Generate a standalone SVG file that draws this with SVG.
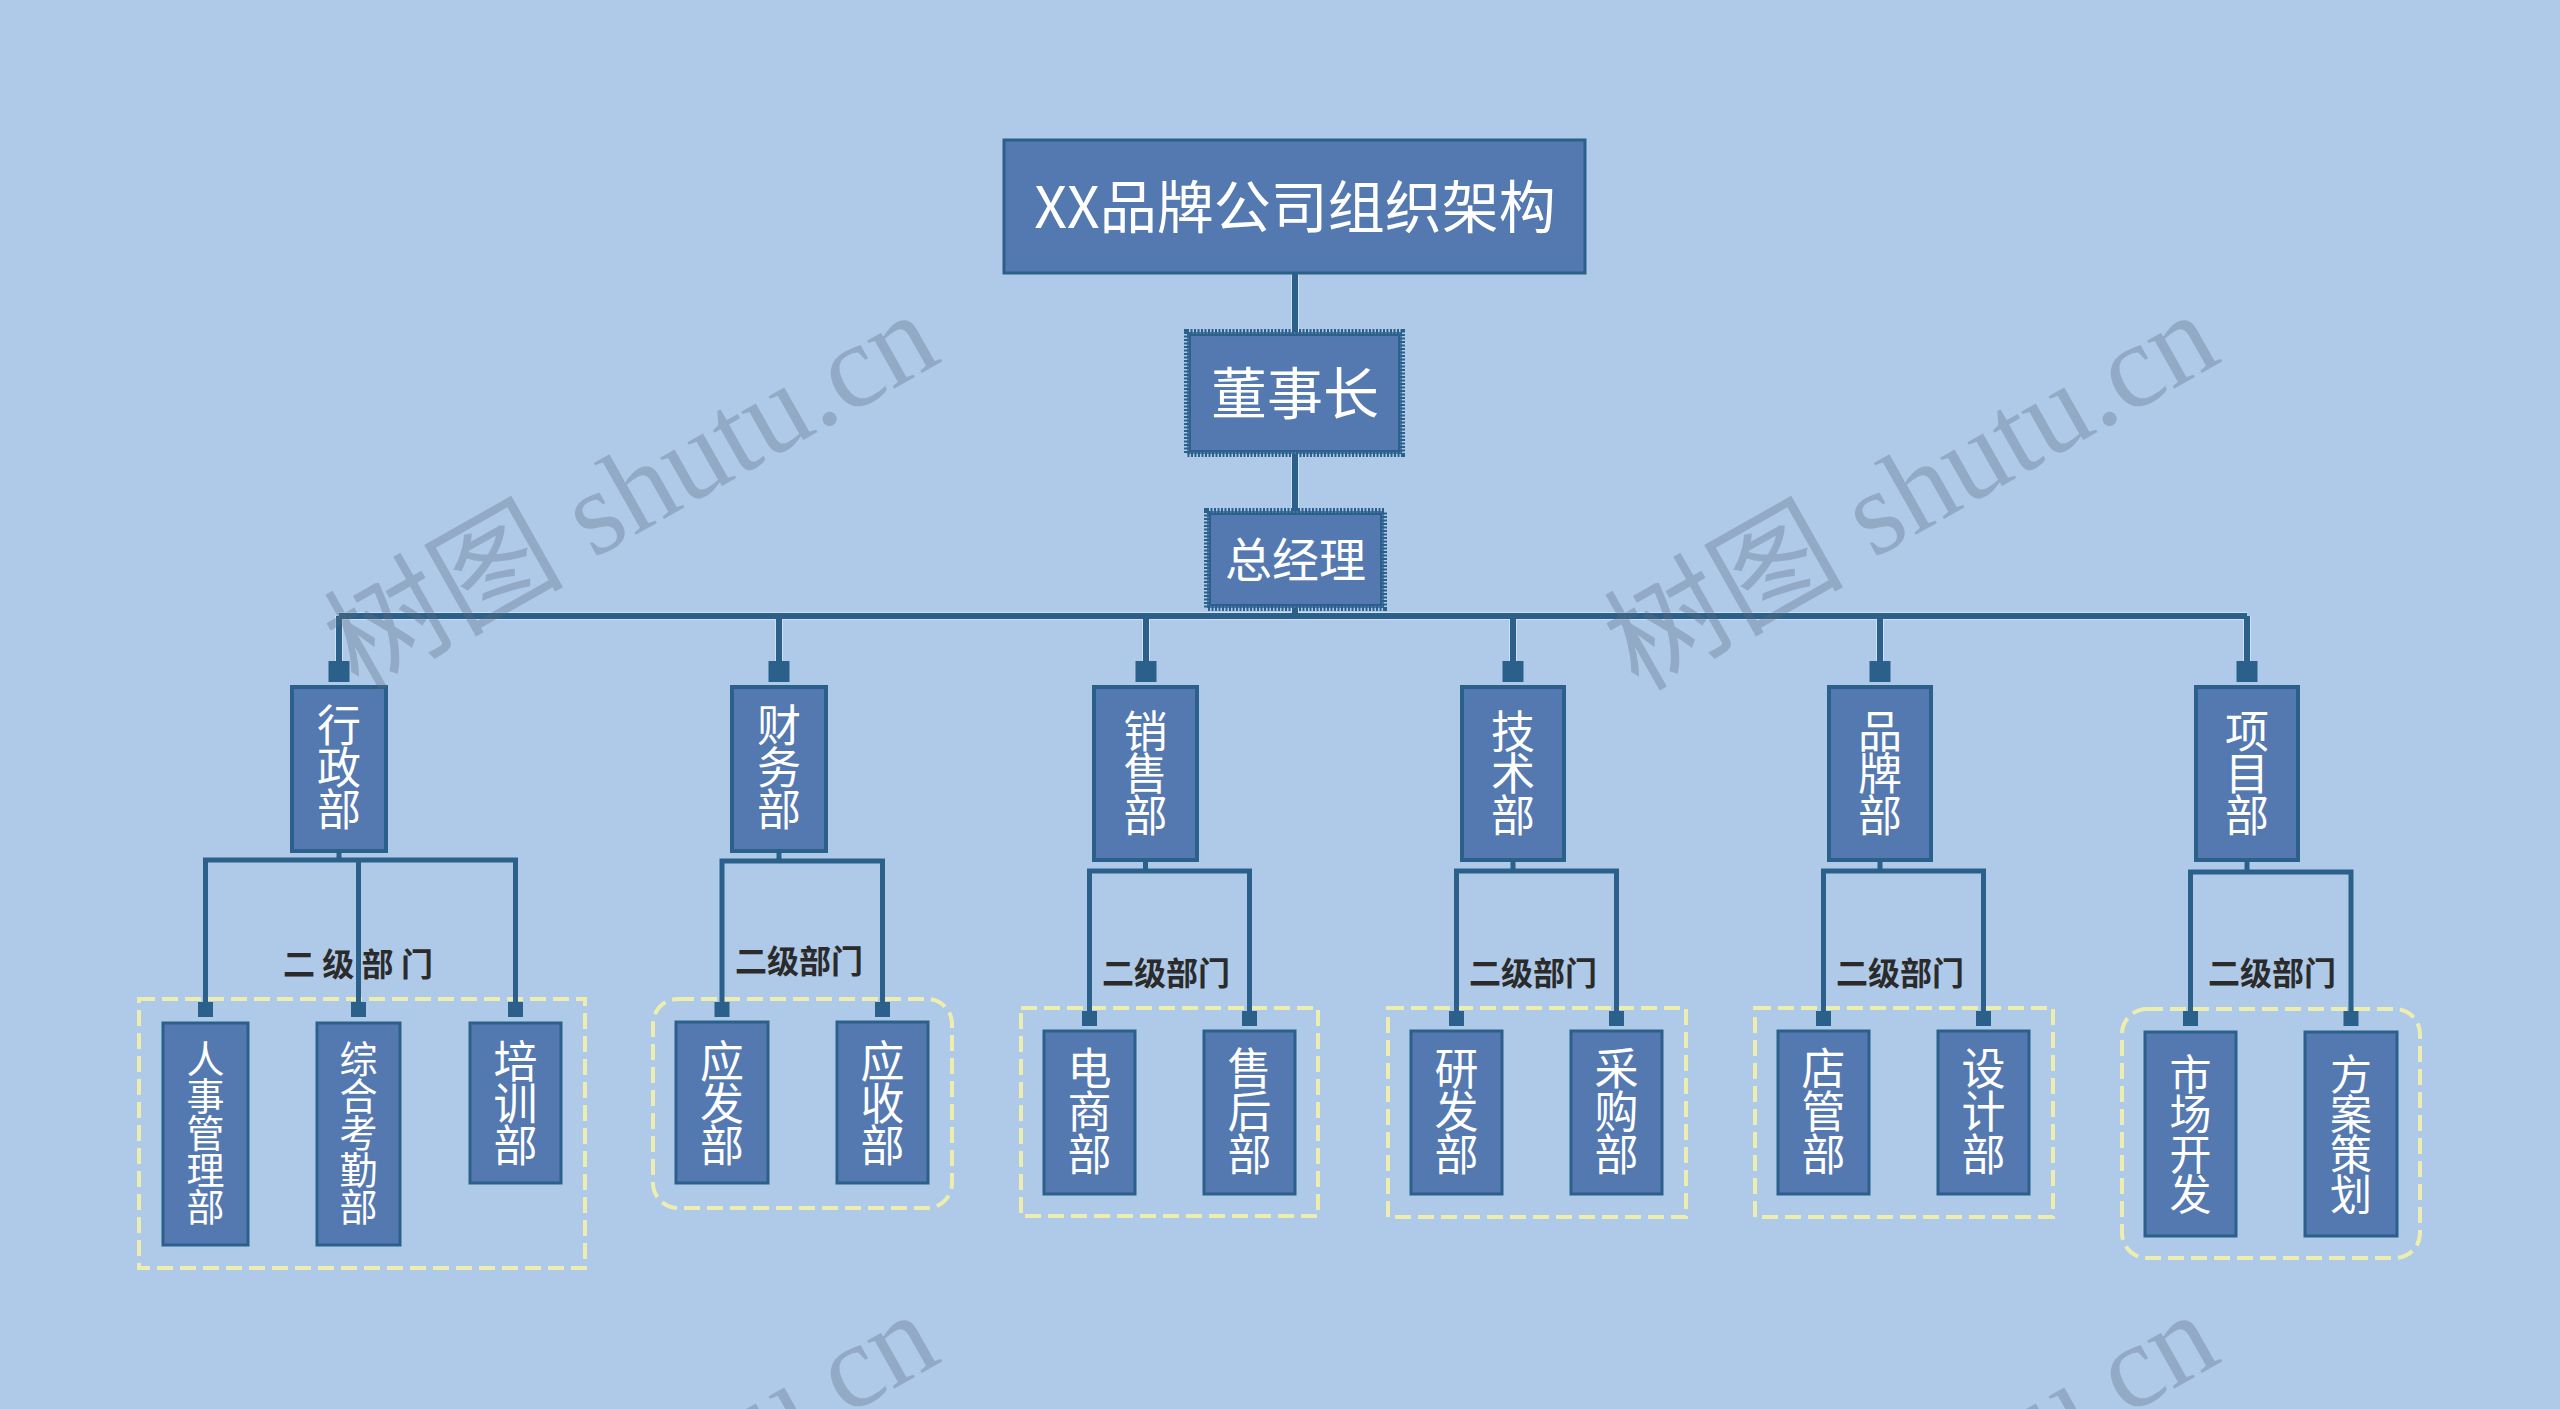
<svg xmlns="http://www.w3.org/2000/svg" width="2560" height="1409" viewBox="0 0 2560 1409">
<style>
.node rect{fill:#5479b0;stroke:#2a6089;stroke-width:4}
.sub rect{fill:#5479b0;stroke:#2a6089;stroke-width:3}
.txt{fill:#ffffff;font-family:"Noto Sans CJK SC",sans-serif;text-anchor:middle}
.v{writing-mode:vertical-rl;text-orientation:upright}
.lbl{fill:#2b2b2b;font-family:"Noto Sans CJK SC",sans-serif;font-weight:700;font-size:32px;text-anchor:middle}
.halo{fill:none;stroke:#cfe0f3;stroke-width:8}
.conn{fill:none;stroke:#2a6089;stroke-width:6}
.sq{fill:#2a6089}
.grp{fill:none;stroke:#eeedb0;stroke-width:4;stroke-dasharray:16 7}
.dot-out{fill:#5479b0;stroke:#2a6089;stroke-width:6;stroke-dasharray:2 1.5}
.dot-in{fill:none;stroke:#2a6089;stroke-width:2}
.wm{fill:#5a6b80;fill-opacity:0.33;font-family:"Liberation Serif","Noto Sans CJK SC",serif;font-size:120px}
</style>
<rect x="0" y="0" width="2560" height="1409" fill="#aecae8"/>

<g id="groups">
<rect class="grp" x="139" y="999" width="446" height="269"/>
<rect class="grp" x="653" y="999" width="299" height="209" rx="25"/>
<rect class="grp" x="1021" y="1008" width="297" height="208"/>
<rect class="grp" x="1388" y="1008" width="298" height="209"/>
<rect class="grp" x="1755" y="1008" width="298" height="209"/>
<rect class="grp" x="2122" y="1009" width="298" height="249" rx="25"/>
</g>

<g id="connectors">
<path class="halo" d="M1295 273V332M1295 454V511M1295 608V616M339 616H2247M339 616V661M779 616V661M1146 616V661M1513 616V661M1880 616V661M2247 616V661"/>
<path class="conn" d="M1295 273V332M1295 454V511M1295 608V616M339 616H2247M339 616V661M779 616V661M1146 616V661M1513 616V661M1880 616V661M2247 616V661"/>
<g class="sq">
<rect x="328.5" y="661" width="21" height="21"/>
<rect x="768.5" y="661" width="21" height="21"/>
<rect x="1135.5" y="661" width="21" height="21"/>
<rect x="1502.5" y="661" width="21" height="21"/>
<rect x="1869.5" y="661" width="21" height="21"/>
<rect x="2236.5" y="661" width="21" height="21"/>
</g>
<path class="conn" style="stroke-width:5" d="M339 851V860M205.5 1002V860H515.5V1002M358.5 860V1002M779 851V861M722 1002V861H882.5V1002M1145.5 860V871M1089.5 1011V871H1249.5V1011M1513 860V871M1456.5 1011V871H1616.5V1011M1880 860V871M1823.5 1011V871H1983.5V1011M2247 860V872M2190.5 1011V872H2351V1011"/>
<g class="sq">
<rect x="198" y="1002" width="15" height="15"/>
<rect x="351" y="1002" width="15" height="15"/>
<rect x="508" y="1002" width="15" height="15"/>
<rect x="714.5" y="1002" width="15" height="15"/>
<rect x="875" y="1002" width="15" height="15"/>
<rect x="1082" y="1011" width="15" height="15"/>
<rect x="1242" y="1011" width="15" height="15"/>
<rect x="1449" y="1011" width="15" height="15"/>
<rect x="1609" y="1011" width="15" height="15"/>
<rect x="1816" y="1011" width="15" height="15"/>
<rect x="1976" y="1011" width="15" height="15"/>
<rect x="2183" y="1011" width="15" height="15"/>
<rect x="2343.5" y="1011" width="15" height="15"/>
</g>
</g>

<g id="n-title" class="node">
<rect x="1004" y="140" width="581" height="133" style="stroke-width:3"/>
<text class="txt" x="1295" y="228" font-size="57">XX品牌公司组织架构</text>
</g>
<g id="n-chairman">
<rect class="dot-out" x="1187" y="332" width="215" height="122"/>
<rect class="dot-in" x="1190" y="335" width="209" height="116"/>
<text class="txt" x="1295" y="414" font-size="56">董事长</text>
</g>
<g id="n-gm">
<rect class="dot-out" x="1207" y="511" width="177" height="97"/>
<rect class="dot-in" x="1210" y="514" width="171" height="91"/>
<text class="txt" x="1295.5" y="577" font-size="47">总经理</text>
</g>

<g id="n-xingzheng" class="node">
<rect x="292" y="687" width="94" height="164"/>
<text class="txt v" x="339" y="766" font-size="44" letter-spacing="-2">行政部</text>
</g>
<g id="n-caiwu" class="node">
<rect x="732" y="687" width="94" height="164"/>
<text class="txt v" x="779" y="766" font-size="44" letter-spacing="-2">财务部</text>
</g>
<g id="n-xiaoshou" class="node">
<rect x="1094" y="687" width="103" height="173"/>
<text class="txt v" x="1145.5" y="772" font-size="44" letter-spacing="-2">销售部</text>
</g>
<g id="n-jishu" class="node">
<rect x="1462" y="687" width="102" height="173"/>
<text class="txt v" x="1513" y="772" font-size="44" letter-spacing="-2">技术部</text>
</g>
<g id="n-pinpai" class="node">
<rect x="1829" y="687" width="102" height="173"/>
<text class="txt v" x="1880" y="772" font-size="44" letter-spacing="-2">品牌部</text>
</g>
<g id="n-xiangmu" class="node">
<rect x="2196" y="687" width="102" height="173"/>
<text class="txt v" x="2247" y="772" font-size="44" letter-spacing="-2">项目部</text>
</g>

<g id="labels">
<text class="lbl" x="358" y="976" xml:space="preserve">二 级 部 门</text>
<text class="lbl" x="799" y="973">二级部门</text>
<text class="lbl" x="1166" y="985">二级部门</text>
<text class="lbl" x="1533" y="985">二级部门</text>
<text class="lbl" x="1900" y="985">二级部门</text>
<text class="lbl" x="2272" y="985">二级部门</text>
</g>

<g id="n-renshi" class="sub">
<rect x="163" y="1023" width="85" height="222"/>
<text class="txt v" x="205.5" y="1132" font-size="38" letter-spacing="-1">人事管理部</text>
</g>
<g id="n-zonghe" class="sub">
<rect x="317" y="1023" width="83" height="222"/>
<text class="txt v" x="358.5" y="1132" font-size="38" letter-spacing="-1">综合考勤部</text>
</g>
<g id="n-peixun" class="sub">
<rect x="470" y="1023" width="91" height="160"/>
<text class="txt v" x="515.5" y="1102" font-size="44" letter-spacing="-2">培训部</text>
</g>
<g id="n-yingfa" class="sub">
<rect x="676" y="1022" width="92" height="161"/>
<text class="txt v" x="722" y="1102" font-size="44" letter-spacing="-2">应发部</text>
</g>
<g id="n-yingshou" class="sub">
<rect x="837" y="1022" width="91" height="161"/>
<text class="txt v" x="882.5" y="1102" font-size="44" letter-spacing="-2">应收部</text>
</g>
<g id="n-dianshang" class="sub">
<rect x="1044" y="1031" width="91" height="163"/>
<text class="txt v" x="1089.5" y="1111" font-size="44" letter-spacing="-1">电商部</text>
</g>
<g id="n-shouhou" class="sub">
<rect x="1204" y="1031" width="91" height="163"/>
<text class="txt v" x="1249.5" y="1111" font-size="44" letter-spacing="-1">售后部</text>
</g>
<g id="n-yanfa" class="sub">
<rect x="1411" y="1031" width="91" height="163"/>
<text class="txt v" x="1456.5" y="1111" font-size="44" letter-spacing="-1">研发部</text>
</g>
<g id="n-caigou" class="sub">
<rect x="1571" y="1031" width="91" height="163"/>
<text class="txt v" x="1616.5" y="1111" font-size="44" letter-spacing="-1">采购部</text>
</g>
<g id="n-dianguan" class="sub">
<rect x="1778" y="1031" width="91" height="163"/>
<text class="txt v" x="1823.5" y="1111" font-size="44" letter-spacing="-1">店管部</text>
</g>
<g id="n-sheji" class="sub">
<rect x="1938" y="1031" width="91" height="163"/>
<text class="txt v" x="1983.5" y="1111" font-size="44" letter-spacing="-1">设计部</text>
</g>
<g id="n-shichang" class="sub">
<rect x="2145" y="1032" width="91" height="204"/>
<text class="txt v" x="2190.5" y="1133" font-size="42" letter-spacing="-2">市场开发</text>
</g>
<g id="n-fangan" class="sub">
<rect x="2305" y="1032" width="92" height="204"/>
<text class="txt v" x="2351" y="1133" font-size="42" letter-spacing="-2">方案策划</text>
</g>

<g id="watermark">
<text class="wm" transform="translate(358 692) rotate(-29.5)">树图 shutu.cn</text>
<text class="wm" transform="translate(1638 692) rotate(-29.5)">树图 shutu.cn</text>
<text class="wm" transform="translate(358 1692) rotate(-29.5)">树图 shutu.cn</text>
<text class="wm" transform="translate(1638 1692) rotate(-29.5)">树图 shutu.cn</text>
</g>
</svg>
